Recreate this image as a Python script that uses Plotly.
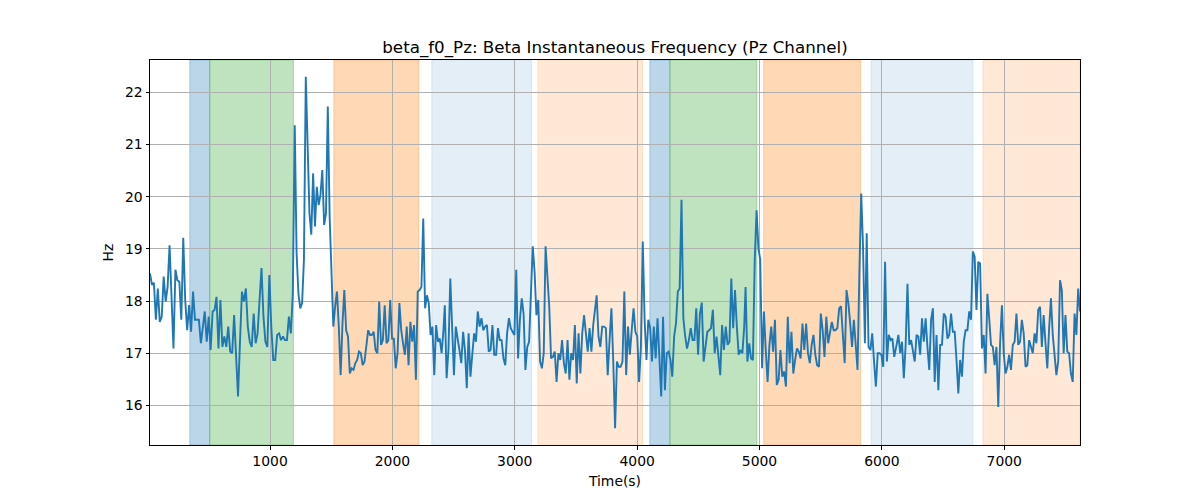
import numpy as np
import plotly.graph_objects as go

# Beta instantaneous frequency (Hz) in six consecutive stretches
hz_part1 = [18.53, 18.31, 18.35, 17.64, 18.24, 17.60, 17.70, 18.47, 17.99, 18.27,
            19.07, 18.02, 17.09, 18.60, 18.40, 18.37, 17.64, 19.21, 18.02, 17.44,
            17.92, 17.41, 18.18, 17.64, 17.64, 17.64, 17.19, 17.51, 17.80, 17.22,
            17.70, 17.06, 17.80, 17.83, 18.08, 17.09, 18.02, 17.12, 17.32, 17.12,
            17.51, 17.03, 17.00, 17.73, 17.00, 16.17, 17.22, 18.18, 17.99, 18.24,
            17.51, 17.22, 17.12, 17.76, 17.19, 17.38, 18.02, 18.63, 17.70, 17.22,
            17.12, 18.50, 17.51, 16.87, 16.87, 17.35, 17.38, 17.25, 17.32, 17.25,
            17.25, 17.70, 17.38, 18.14]
hz_part2 = [21.37, 18.91, 18.14, 17.86, 17.96, 18.79, 22.30, 20.70, 19.68, 19.27,
            20.45, 19.43, 20.19, 19.84, 20.03, 20.51, 19.46, 19.68, 21.73, 19.62,
            18.53, 17.51, 17.90, 18.18, 17.51, 16.58, 17.57, 18.21, 17.44, 17.32,
            16.61, 16.71, 16.68, 16.81, 16.87, 17.03, 17.00, 16.77, 16.84, 17.19,
            17.44, 17.35, 17.35, 17.41, 17.06, 17.00, 17.99, 17.16, 17.25, 17.92,
            17.19, 17.25, 18.02, 17.28, 17.28, 16.71, 17.00, 17.96, 17.44, 17.19,
            16.97, 17.51, 16.77, 17.60, 17.22, 17.54, 16.49, 18.18, 18.21, 18.27,
            19.58, 17.86, 18.11, 17.96, 17.35, 17.51, 16.58, 17.54, 17.22, 17.28,
            17.00, 17.44]
hz_part3 = [17.92, 16.52, 17.06, 18.43, 17.38, 16.58, 17.51, 17.32, 17.06, 16.81,
            17.41, 17.06, 16.33, 17.38, 16.55, 16.97, 17.38, 17.22, 17.80, 17.51,
            17.67, 17.44, 17.51, 17.54, 17.03, 17.06, 17.54, 16.97, 16.97, 17.48,
            17.25, 17.25, 16.90, 16.77, 17.38, 17.67, 17.48, 17.41, 17.35, 18.60,
            16.90, 17.64, 18.05, 17.76, 16.68, 17.12, 17.22, 18.14, 19.05, 18.56,
            17.73, 18.02, 16.84, 16.71, 17.00, 19.05, 18.40, 17.89, 16.90, 16.93,
            17.03, 16.45, 17.00, 16.87, 17.25, 16.81, 16.61, 17.25, 16.49, 17.00,
            16.87, 17.54, 16.42, 17.38, 16.61, 17.38, 17.73, 17.41, 17.03, 17.48,
            17.03, 17.54]
hz_part4 = [17.86, 18.11, 17.32, 17.12, 17.51, 17.51, 17.48, 16.58, 17.25, 17.86,
            16.84, 15.56, 16.84, 16.74, 16.74, 16.84, 18.18, 16.58, 17.51, 16.97,
            17.44, 17.86, 17.41, 17.32, 16.45, 17.12, 19.14, 17.64, 16.87, 17.64,
            17.48, 16.84, 17.51, 16.90, 17.67, 16.74, 16.17, 17.70, 16.29, 17.00,
            17.03, 16.87, 16.55, 17.32, 17.57, 18.18, 18.24, 19.94, 17.67, 17.32,
            17.09, 17.25, 17.48, 17.25, 17.25, 17.86, 16.97, 17.76, 17.97, 16.84,
            17.19, 17.41, 17.44, 17.48, 17.83, 17.00, 17.32, 16.93, 16.58, 17.54,
            17.06, 17.51, 17.16, 17.22, 18.43, 17.48, 18.21, 17.51, 16.97, 17.06,
            17.00, 17.51]
hz_part5 = [18.27, 16.84, 17.19, 16.90, 16.87, 18.79, 19.74, 19.01, 18.79, 16.71,
            17.80, 17.06, 16.45, 17.16, 17.51, 17.03, 17.64, 16.39, 16.49, 17.06,
            16.55, 16.65, 16.36, 17.70, 16.81, 17.41, 16.61, 16.87, 17.09, 17.03,
            16.90, 17.57, 17.06, 17.57, 17.00, 16.81, 17.16, 17.35, 16.97, 16.77,
            16.74, 17.76, 17.44, 16.93, 17.70, 17.19, 17.44, 17.60, 17.44, 17.44,
            17.48, 17.86, 17.90, 17.32, 16.81, 18.21, 17.96, 17.57, 17.12, 17.64,
            17.19, 16.68, 18.53, 20.06, 19.04, 17.19, 19.30, 17.12, 17.06, 17.38,
            16.84, 16.36, 17.00, 17.00, 16.97, 16.74, 18.75, 16.84, 17.35, 17.25,
            17.28, 16.93]
hz_part6 = [17.16, 17.35, 17.00, 17.22, 16.52, 17.16, 18.33, 17.16, 17.25, 17.00,
            16.84, 17.35, 17.32, 16.97, 17.67, 17.22, 17.67, 17.12, 16.68, 17.64,
            17.86, 16.45, 17.35, 16.29, 17.16, 17.16, 17.76, 17.70, 17.28, 17.35,
            17.76, 17.41, 17.41, 16.87, 16.23, 16.87, 16.55, 17.22, 17.44, 17.44,
            17.80, 17.64, 18.95, 18.85, 17.83, 18.75, 18.72, 17.09, 17.35, 16.61,
            18.14, 17.67, 17.16, 17.12, 16.77, 17.12, 15.97, 17.19, 17.92, 17.00,
            16.61, 16.74, 16.97, 16.68, 17.16, 17.22, 17.76, 17.16, 17.22, 17.64,
            17.38, 16.74, 16.77, 17.25, 17.12, 17.00, 17.38, 17.19, 17.83, 17.89,
            17.12, 17.73, 17.19, 16.71, 17.48, 18.05, 17.35, 17.03, 16.58, 16.84,
            18.40, 18.21, 17.00, 17.73, 17.03, 17.00, 16.61, 16.45, 17.76, 17.35,
            18.24, 17.80]

# time span (s) covered by each stretch; samples are evenly spaced inside it
part_spans = [(19, 1186), (1202, 2417), (2428, 3641), (3654, 4875), (4886, 6101), (6120, 7619)]
parts = [hz_part1, hz_part2, hz_part3, hz_part4, hz_part5, hz_part6]

time_s = np.concatenate([np.linspace(a, b, len(p)) for (a, b), p in zip(part_spans, parts)])
hz = np.concatenate(parts)

# labelled segments (start, end, colour)
seg_start = [344, 507, 1521, 2322, 3188, 4104, 4268, 5034, 5911, 6826]
seg_end = [507, 1191, 2216, 3137, 4044, 4268, 4979, 5826, 6744, 7619]
seg_color = ['rgba(31,119,180,0.3)', 'rgba(44,160,44,0.3)', 'rgba(255,127,14,0.3)',
             'rgba(31,119,180,0.12)', 'rgba(255,127,14,0.17)',
             'rgba(31,119,180,0.3)', 'rgba(44,160,44,0.3)', 'rgba(255,127,14,0.3)',
             'rgba(31,119,180,0.12)', 'rgba(255,127,14,0.17)']

fig = go.Figure()

for x0, x1, c in zip(seg_start, seg_end, seg_color):
    fig.add_shape(type='rect', xref='x', yref='paper', x0=x0, x1=x1, y0=0, y1=1,
                  fillcolor=c, line=dict(color=c, width=1), layer='below')

fig.add_trace(go.Scatter(
    x=time_s, y=hz, mode='lines',
    line=dict(color='#1f77b4', width=1.9),
    showlegend=False,
))

font = 'DejaVu Sans'
fig.update_layout(
    width=1200, height=500,
    margin=dict(l=142, r=128, t=52, b=63),
    plot_bgcolor='white', paper_bgcolor='white',
    font=dict(family=font, size=13.9, color='black'),
    title=dict(text='beta_f0_Pz: Beta Instantaneous Frequency (Pz Channel)',
               xref='paper', x=0.5, xanchor='center',
               yref='paper', y=1, yanchor='bottom', pad=dict(b=7),
               font=dict(size=16.7, family=font, color='black')),
)

fig.update_xaxes(
    range=[19, 7619], tickvals=[1000, 2000, 3000, 4000, 5000, 6000, 7000],
    showgrid=True, gridcolor='#b0b0b0', gridwidth=0.8,
    showline=True, linecolor='black', linewidth=1, mirror=True,
    ticks='outside', ticklen=3.5, tickcolor='black', zeroline=False,
    title=dict(text='Time(s)', standoff=8, font=dict(size=13.9)),
)
fig.update_yaxes(
    range=[15.24, 22.62], tickvals=[16, 17, 18, 19, 20, 21, 22],
    showgrid=True, gridcolor='#b0b0b0', gridwidth=0.8,
    showline=True, linecolor='black', linewidth=1, mirror=True,
    ticks='outside', ticklen=3.5, tickcolor='black', zeroline=False,
    title=dict(text='Hz', standoff=8, font=dict(size=13.9)),
)

fig.write_html('out.html')
